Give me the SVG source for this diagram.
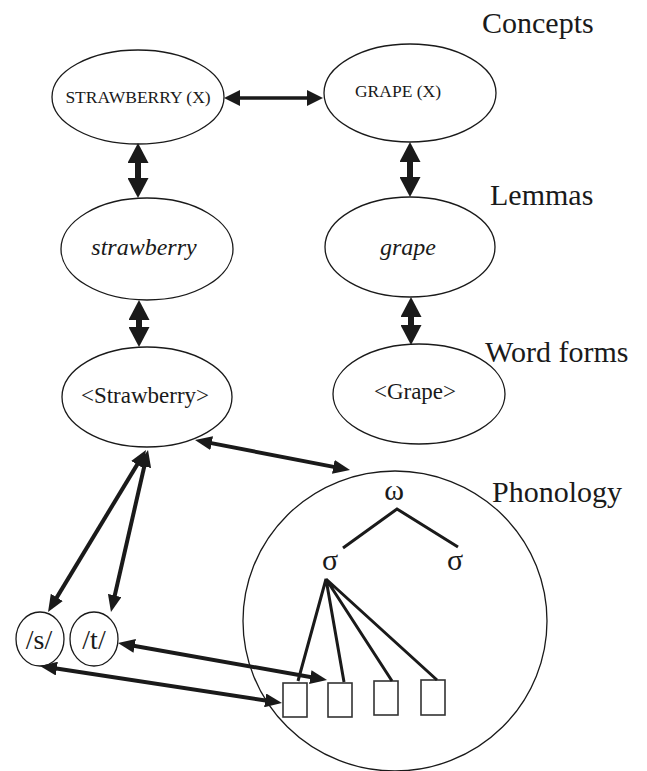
<svg xmlns="http://www.w3.org/2000/svg" width="647" height="771" viewBox="0 0 647 771">
<style>
.n{fill:#fff;stroke:#1a1a1a;stroke-width:1.3}
.t{font-family:"Liberation Serif","Times New Roman",serif;fill:#1a1a1a;text-anchor:middle}
.lab{font-family:"Liberation Serif","Times New Roman",serif;fill:#1a1a1a;font-size:30px}
.sq{fill:#fff;stroke:#333;stroke-width:1.6}
.a1{stroke:#1a1a1a;stroke-width:6;fill:none;marker-start:url(#hv);marker-end:url(#hv)}
.a2{stroke:#1a1a1a;stroke-width:4;fill:none;marker-start:url(#hm);marker-end:url(#hm)}
.a3{stroke:#1a1a1a;stroke-width:3.5;fill:none;marker-start:url(#hs);marker-end:url(#hs)}
.tr{stroke:#1a1a1a;stroke-width:3;fill:none}
</style>
<defs>
<marker id="hv" markerUnits="userSpaceOnUse" viewBox="0 0 20 21" markerWidth="20" markerHeight="21" refX="8" refY="10.5" orient="auto-start-reverse"><path d="M0,0 L20,10.5 L0,21 Z" fill="#1a1a1a"/></marker>
<marker id="hm" markerUnits="userSpaceOnUse" viewBox="0 0 17 14" markerWidth="17" markerHeight="14" refX="7" refY="7" orient="auto-start-reverse"><path d="M0,0 L17,7 L0,14 Z" fill="#1a1a1a"/></marker>
<marker id="hs" markerUnits="userSpaceOnUse" viewBox="0 0 16 16" markerWidth="16" markerHeight="16" refX="6" refY="8" orient="auto-start-reverse"><path d="M0,0 L16,8 L0,16 Z" fill="#1a1a1a"/></marker>
</defs>

<g id="labels">
<text class="lab" x="482" y="33">Concepts</text>
<text class="lab" x="490" y="205">Lemmas</text>
<text class="lab" x="485" y="362">Word forms</text>
<text class="lab" x="492" y="502">Phonology</text>
</g>

<g id="concept-strawberry"><ellipse class="n" cx="138" cy="97" rx="86" ry="47"/><text class="t" x="138" y="103" font-size="17.5">STRAWBERRY (X)</text></g>
<g id="concept-grape"><ellipse class="n" cx="410" cy="93" rx="86" ry="49"/><text class="t" x="398" y="97" font-size="17.5">GRAPE (X)</text></g>
<g id="lemma-strawberry"><ellipse class="n" cx="147" cy="249" rx="86" ry="51"/><text class="t" x="144" y="255" font-size="24" font-style="italic">strawberry</text></g>
<g id="lemma-grape"><ellipse class="n" cx="410" cy="247" rx="85" ry="50"/><text class="t" x="408" y="255" font-size="24" font-style="italic">grape</text></g>
<g id="wordform-strawberry"><ellipse class="n" cx="147" cy="397" rx="85" ry="50"/><text class="t" x="145" y="403" font-size="23">&lt;Strawberry&gt;</text></g>
<g id="wordform-grape"><ellipse class="n" cx="419" cy="394" rx="86" ry="50"/><text class="t" x="415" y="399" font-size="23">&lt;Grape&gt;</text></g>
<g id="phon-s"><ellipse class="n" cx="40" cy="639" rx="24" ry="27"/><text class="t" x="39" y="649" font-size="28">/s/</text></g>
<g id="phon-t"><ellipse class="n" cx="94" cy="639" rx="24" ry="27"/><text class="t" x="94" y="649" font-size="28">/t/</text></g>
<g id="phonology">
<ellipse class="n" cx="395" cy="621" rx="152" ry="150"/>
<text class="t" x="394" y="500" font-size="30">ω</text>
<text class="t" x="330" y="570" font-size="30">σ</text>
<text class="t" x="455" y="570" font-size="30">σ</text>
</g>
<g id="seg1"><rect class="sq" x="283" y="683" width="24" height="34"/></g>
<g id="seg2"><rect class="sq" x="328" y="683" width="24" height="34"/></g>
<g id="seg3"><rect class="sq" x="374" y="681" width="24" height="34"/></g>
<g id="seg4"><rect class="sq" x="421" y="680" width="24" height="35"/></g>

<g id="connectors">
<line class="a3" x1="234" y1="98" x2="313" y2="98"/>
<line class="a1" x1="138" y1="155" x2="138" y2="186"/>
<line class="a1" x1="410" y1="154" x2="410" y2="185"/>
<line class="a1" x1="139" y1="312" x2="139" y2="335"/>
<line class="a1" x1="411" y1="309" x2="411" y2="333"/>
<line class="a2" x1="204.8" y1="441.9" x2="340.2" y2="468.1"/>
<line class="a2" x1="140.8" y1="458.6" x2="53.2" y2="603.4"/>
<line class="a2" x1="145.8" y1="459.7" x2="113.2" y2="602.3"/>
<line class="a2" x1="127.8" y1="644.7" x2="317.2" y2="678.3"/>
<line class="a2" x1="49.9" y1="667.5" x2="272.1" y2="701.5"/>
<path class="tr" d="M343,548 L397,509 L458,547"/>
<path class="tr" d="M298,681 L326,579 L344,682 M326,579 L392,681 M326,579 L437,680"/>
</g>
</svg>
